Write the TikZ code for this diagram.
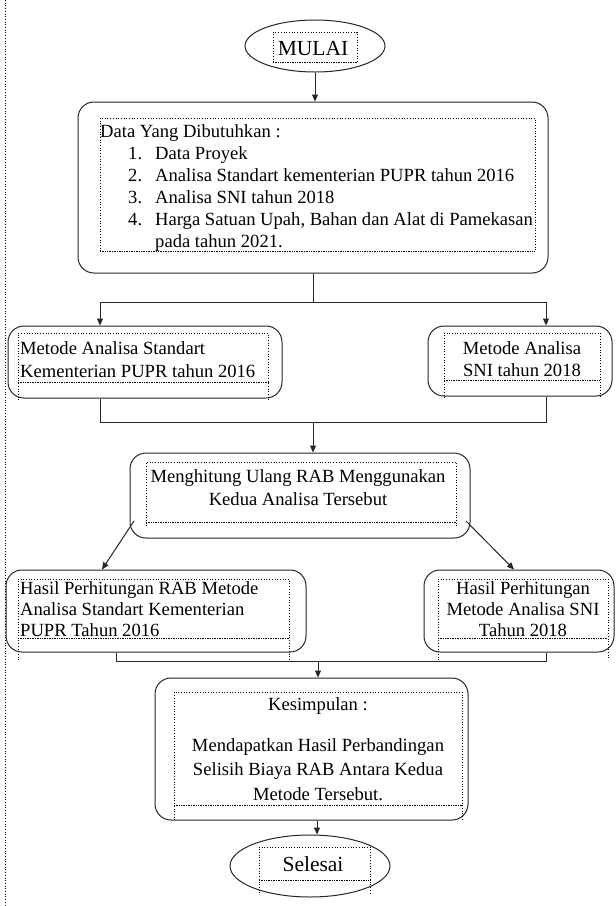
\documentclass[tikz,border=0pt]{standalone}
\usepackage{fontspec}
\setmainfont{Liberation Serif}
\usetikzlibrary{arrows.meta,shapes.geometric}
\newcommand\bodyfs{\fontsize{18.6}{22}\selectfont}
\newcommand\bigfs{\fontsize{21.5}{25}\selectfont}
\newcommand\dbox[5]{%
  \draw[dotbox] (#1,#5) -- (#1,#2) -- (#3,#2) -- (#3,#5);
  \draw[dotbox,densely dotted] (#1,#4) -- (#3,#4);}
\tikzset{
  rbox/.style={draw=black!85, line width=1pt, rounded corners=16pt, inner sep=0pt},
  oval/.style={draw=black!85, line width=1pt, ellipse, inner sep=0pt},
  dotbox/.style={draw=black, dotted, line width=0.7pt},
  txt/.style={inner sep=0pt, anchor=base west, font=\bodyfs},
  ctxt/.style={inner sep=0pt, anchor=base, font=\bodyfs},
  conn/.style={draw=black!85, line width=1pt},
  arr/.style={conn, -{Triangle[length=7pt,width=6pt]}},
}
\begin{document}
\begin{tikzpicture}[x=1pt,y=-1pt]
\useasboundingbox (0,0) rectangle (616,906);
\fill[white] (0,0) rectangle (616,906);
% left dotted margin line
\draw[dotbox] (5,0) -- (5,906);

% MULAI
\node[oval, minimum width=140, minimum height=52] (start) at (315,46) {};
\dbox{273}{32}{357}{62}{62}
\node[ctxt, font=\bigfs] (tstart) at (313,55) {MULAI};

% Data box
\node[rbox, minimum width=470, minimum height=171] (data) at (313,187.5) {};
\dbox{100}{118}{535}{251}{251}
\node[txt] (d0) at (100,137) {Data Yang Dibutuhkan :};
\node[txt] (n1) at (128,159) {1.};
\node[txt] (d1) at (155,159) {Data Proyek};
\node[txt] (n2) at (128,181) {2.};
\node[txt] (d2) at (155,181) {Analisa Standart kementerian PUPR tahun 2016};
\node[txt] (n3) at (128,203) {3.};
\node[txt] (d3) at (155,203) {Analisa SNI tahun 2018};
\node[txt] (n4) at (128,225) {4.};
\node[txt] (d4) at (155,225) {Harga Satuan Upah, Bahan dan Alat di Pamekasan};
\node[txt] (d5) at (155,247) {pada tahun 2021.};

% Method boxes
\node[rbox, minimum width=274, minimum height=72] (m1) at (145,362) {};
\dbox{18}{333}{268}{382}{400}
\node[txt] (m1a) at (20,354) {Metode Analisa Standart};
\node[txt] (m1b) at (20,377) {Kementerian PUPR tahun 2016};

\node[rbox, minimum width=184, minimum height=70] (m2) at (520,361) {};
\dbox{444}{333}{600}{380}{398}
\node[ctxt] (m2a) at (522,354) {Metode Analisa};
\node[ctxt] (m2b) at (522,376) {SNI tahun 2018};

% Calc box
\node[rbox, minimum width=340, minimum height=85] (calc) at (300,495.5) {};
\dbox{146}{462}{456}{522}{526}
\node[ctxt] (c1) at (298,482) {Menghitung Ulang RAB Menggunakan};
\node[ctxt] (c2) at (298,505) {Kedua Analisa Tersebut};

% Result boxes
\node[rbox, minimum width=300, minimum height=82] (r1) at (156,611) {};
\dbox{18}{579}{289}{638}{660}
\node[txt] (r1a) at (20,594) {Hasil Perhitungan RAB Metode};
\node[txt] (r1b) at (20,615) {Analisa Standart Kementerian};
\node[txt] (r1c) at (20,636) {PUPR Tahun 2016};

\node[rbox, minimum width=190, minimum height=82] (r2) at (519,611) {};
\dbox{438}{579}{608}{638}{660}
\node[ctxt] (r2a) at (523,594) {Hasil Perhitungan};
\node[ctxt] (r2b) at (523,615) {Metode Analisa SNI};
\node[ctxt] (r2c) at (523,636) {Tahun 2018};

% Conclusion box
\node[rbox, minimum width=313, minimum height=142] (conc) at (311.5,749) {};
\dbox{174}{692}{462}{805}{820}
\node[ctxt] (k0) at (318,710) {Kesimpulan :};
\node[ctxt] (k1) at (318,751) {Mendapatkan Hasil Perbandingan};
\node[ctxt] (k2) at (318,775) {Selisih Biaya RAB Antara Kedua};
\node[ctxt] (k3) at (318,800) {Metode Tersebut.};

% Selesai
\node[oval, minimum width=160, minimum height=62] (end) at (310,866) {};
\dbox{259}{847}{370}{880}{893}
\node[ctxt, font=\bigfs] (tend) at (313,871) {Selesai};

% Connectors
\draw[arr] (start.south) -- (start.south |- data.north);

\coordinate (s1) at (313,302);
\coordinate (s1L) at (100,302);
\coordinate (s1R) at (546,302);
\draw[conn] (data.south) -- (s1);
\draw[conn] (s1L) -- (s1R);
\draw[arr] (s1L) -- (s1L |- m1.north);
\draw[arr] (s1R) -- (s1R |- m2.north);

\coordinate (j1L) at (100,422);
\coordinate (j1R) at (546,422);
\coordinate (j1C) at (313,422);
\draw[conn] (j1L |- m1.south) -- (j1L) -- (j1R) -- (j1R |- m2.south);
\draw[arr] (j1C) -- (j1C |- calc.north);

\coordinate (dL) at (134,521);
\coordinate (dR) at (466,521);
\coordinate (eL) at (102,0);
\coordinate (eR) at (514,0);
\draw[arr] (dL) -- (eL |- r1.north);
\draw[arr] (dR) -- (eR |- r2.north);

\coordinate (j2L) at (116,661);
\coordinate (j2R) at (546,661);
\coordinate (j2C) at (318,661);
\draw[conn] (j2L |- r1.south) -- (j2L) -- (j2R) -- (j2R |- r2.south);
\draw[arr] (j2C) -- (j2C |- conc.north);

\coordinate (kx) at (317,0);
\draw[arr] (kx |- conc.south) -- (kx |- end.north);
\end{tikzpicture}
\end{document}
